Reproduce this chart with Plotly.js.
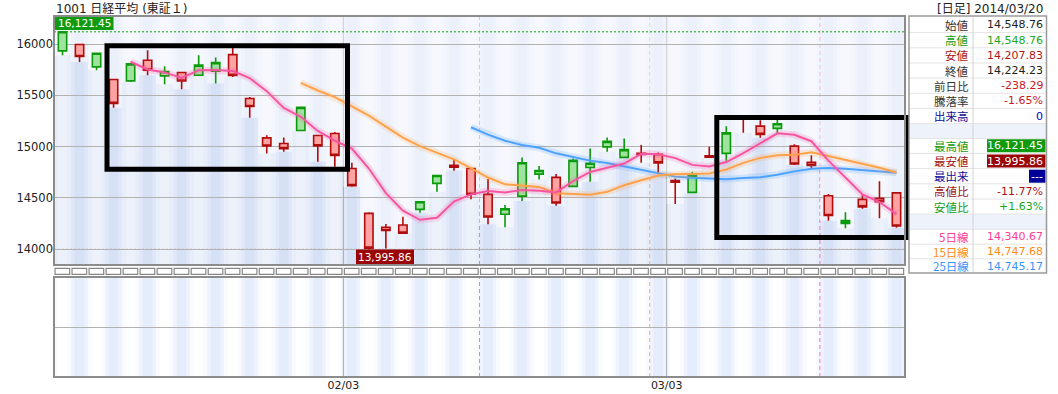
<!DOCTYPE html>
<html><head><meta charset="utf-8">
<script src="https://cdn.plot.ly/plotly-3.0.1.min.js"></script>
<style>html,body{margin:0;padding:0;background:#fff;}#chart{width:1058px;height:394px;}</style>
</head><body><div id="chart"></div>
<script>
// ---------------- DATA ----------------
const chartTitle = '1001 日経平均 (東証１)';
const chartHeader = '[日足] 2014/03/20';
const dates = ['01/08','01/09','01/10','01/14','01/15','01/16','01/17','01/20','01/21','01/22','01/23','01/24','01/27','01/28','01/29','01/30','01/31',
 '02/03','02/04','02/05','02/06','02/07','02/10','02/12','02/13','02/14','02/17','02/18','02/19','02/20','02/21','02/24','02/25','02/26','02/27','02/28',
 '03/03','03/04','03/05','03/06','03/07','03/10','03/11','03/12','03/13','03/14','03/17','03/18','03/19','03/20'];
const openV = [15935,15997,15779,15656,15642,15844,15691,15724,15697,15737,15899,15470,15086,15031,15158,15109,15129,
 14787,14348,14212,14234,14387,14641,14817,14787,14534,14339,14517,14732,14700,14612,14797,14998,14895,14935,14924,
 14668,14553,14910,14934,15282,15200,15178,15005,14846,14520,14251,14485,14495,14548.76];
const highV = [16121.45,15999,15920,15662,15812,15941,15785,15728,15893,15870,15964,15486,15112,15090,15390,15115,15144,
 14842,14358,14244,14315,14465,14722,14878,14792,14683,14429,14895,14810,14732,14885,14982,15090,15080,15015,14943,
 14690,14754,14998,15200,15295,15259,15260,15024,14917,14537,14358,14537,14663,14548.76];
const lowV = [15893,15827,15746,15379,15632,15697,15610,15561,15690,15617,15681,15281,14934,14950,15150,14852,14803,
 14608,13995.86,14005,14150,14354,14559,14764,14485,14241,14212,14468,14680,14422,14605,14657,14950,14890,14842,14732,
 14439,14545,14890,14861,15135,15086,15122,14820,14780,14276,14202,14393,14300,14207.83];
const closeV = [16121.45,15880.33,15912.06,15422.40,15808.73,15747.20,15734.46,15641.68,15795.96,15820.96,15695.89,15391.56,15005.73,14980.16,15383.89,15007.06,14914.53,
 14619.13,14008.47,14180.38,14155.12,14462.41,14718.34,14800.06,14534.71,14313.03,14393.11,14843.24,14766.53,14449.44,14865.67,14837.68,15051.60,14970.97,14923.11,14841.07,
 14652.23,14721.48,14897.63,15134.75,15274.07,15120.14,15224.06,14830.39,14815.98,14327.66,14277.67,14411.27,14462.52,14224.23];
const ma5 = [null,null,null,null,
 15828.99,15754.14,15724.97,15670.89,15745.61,15748.05,15737.79,15669.21,15542.02,15378.86,
 15291.45,15153.68,15058.27,14980.95,14786.62,14545.91,14375.53,14285.10,14304.94,14463.26,
 14534.13,14565.71,14551.85,14576.83,14570.12,14553.07,14663.60,14752.51,14794.18,14835.07,
 14929.81,14924.89,14887.80,14821.77,14807.10,14849.43,14936.03,15029.61,15130.13,15116.68,
 15052.93,14863.65,14695.15,14532.59,14459.02,14340.67];
const ma15 = [null,null,null,null,null,null,null,null,null,null,null,null,null,null,
 15622.83,15548.54,15484.15,15397.96,15303.69,15195.14,15089.00,15004.20,14942.64,14876.25,
 14790.50,14698.31,14631.74,14620.91,14606.67,14544.37,14534.94,14529.82,14558.65,14622.82,
 14672.33,14718.06,14730.72,14730.93,14737.43,14777.44,14841.51,14889.97,14915.36,14919.62,
 14944.06,14908.19,14870.85,14828.17,14794.27,14747.68];
const ma25 = [null,null,null,null,null,null,null,null,null,null,null,null,null,null,null,null,null,null,null,null,null,null,null,null,
 15189.71,15117.37,15057.88,15015.13,14988.89,14934.52,14899.26,14863.39,14839.79,14806.79,
 14770.87,14736.68,14707.11,14695.74,14692.44,14682.47,14693.15,14701.37,14725.57,14758.45,
 14783.87,14790.77,14783.38,14771.10,14757.60,14745.17];
const maPeriods = [5, 15, 25];
const yTickVals = [14000, 14500, 15000, 15500, 16000];
const yTickLabels = ['14000','14500','15000','15500','16000'];
const xTickDates = ['02/03','03/03'];
const infoLabels = ['始値','高値','安値','終値','前日比','騰落率','出来高','','最高値','最安値','最出来','高値比','安値比','','5日線','15日線','25日線'];
const infoValues = ['14,548.76','14,548.76','14,207.83','14,224.23','-238.29','-1.65%','0','','16,121.45','13,995.86','---','-11.77%','+1.63%','','14,340.67','14,747.68','14,745.17'];

// ---------------- STYLE / GEOMETRY ----------------
const n = dates.length;
const xs = dates.map((d, i) => i);
const L = 54, R = 905, T = 16, B = 377;
const px = x => (x - L) / (R - L);
const py = y => (B - y) / (B - T);
const yMin = 13844, yMax = 16276;
const NUM = 'DejaVu Sans, Verdana, sans-serif';
const CJK = 'DejaVu Sans, Noto Sans CJK JP, sans-serif';
const cPink = '#f7559f', cOrange = '#ffa24a', cBlue = '#4ea2ff';

const shapes = [];
for (let i = 0; i < n; i++) {
  const odd = i % 2 === 1;
  shapes.push({type:'rect', layer:'below', xref:'x', yref:'y domain', x0:i-0.5, x1:i+0.5, y0:0, y1:1,
    fillcolor: odd ? '#dfe7f8' : '#e7edf9', line:{width:0}});
  shapes.push({type:'rect', layer:'below', xref:'x', yref:'y domain', x0:i-0.28, x1:i+0.28, y0:0, y1:1,
    fillcolor: odd ? '#d7e1f6' : '#edf1fa', line:{width:0}});
  shapes.push({type:'rect', layer:'below', xref:'x', yref:'y2 domain', x0:i-0.5, x1:i+0.5, y0:0, y1:1,
    fillcolor: odd ? '#eef3fd' : '#f9fbfe', line:{width:0}});
  shapes.push({type:'rect', layer:'below', xref:'x', yref:'y2 domain', x0:i-0.28, x1:i+0.28, y0:0, y1:1,
    fillcolor: odd ? '#e5edfc' : '#ffffff', line:{width:0}});
}
for (let i = 0; i < n; i++) {
  shapes.push({type:'rect', layer:'below', xref:'x', yref:'y', x0:i-0.5, x1:i+0.5, y0:lowV[i], y1:yMax,
    fillcolor:'rgba(255,255,255,0.5)', line:{width:0}});
}
// month separators
xTickDates.forEach(d => {
  const k = dates.indexOf(d) - 0.5;
  ['y domain','y2 domain'].forEach(yr => shapes.push({type:'line', layer:'below', xref:'x', yref:yr,
    x0:k, x1:k, y0:0, y1:1, line:{color:'#a6a6a6', width:1}}));
});
// MA window start markers
const maDashColors = ['#ff6fb2', '#ffad6a', '#6fb0ff'];
maPeriods.forEach((p, j) => {
  const k = n - p - 0.5;
  ['y domain','y2 domain'].forEach(yr => shapes.push({type:'line', layer:'below', xref:'x', yref:yr,
    x0:k, x1:k, y0:0, y1:1, line:{color:maDashColors[j], width:1, dash:'4px,3px'}}));
});
// max / min lines
const hiVal = Math.max(...highV), loVal = Math.min(...lowV);
shapes.push({type:'line', layer:'above', xref:'x', yref:'y', x0:-0.5, x1:n-0.5, y0:hiVal, y1:hiVal,
  line:{color:'#10a010', width:1, dash:'2px,2px'}});
shapes.push({type:'line', layer:'below', xref:'x', yref:'y', x0:-0.5, x1:n-0.5, y0:loVal, y1:loVal,
  line:{color:'#9a0a0a', width:1, dash:'2px,2px'}});
// value tags
shapes.push({type:'rect', layer:'above', xref:'paper', yref:'paper', x0:px(55), x1:px(113.5), y0:py(30), y1:py(16.5),
  fillcolor:'#0f9a0f', line:{width:0}});
shapes.push({type:'rect', layer:'above', xref:'paper', yref:'paper', x0:px(356), x1:px(414), y0:py(264), y1:py(249.5),
  fillcolor:'#9a0606', line:{width:0}});
// user boxes
shapes.push({type:'rect', layer:'above', xref:'paper', yref:'paper', x0:px(107), x1:px(347.5), y0:py(169.2), y1:py(45.8),
  line:{color:'#000', width:5}, fillcolor:'rgba(0,0,0,0)'});
shapes.push({type:'rect', layer:'above', xref:'paper', yref:'paper', x0:px(716.8), x1:px(906.5), y0:py(237.5), y1:py(117.5),
  line:{color:'#000', width:5}, fillcolor:'rgba(0,0,0,0)'});
// day boxes row
for (let i = 0; i < n; i++) {
  shapes.push({type:'rect', layer:'above', xref:'x', yref:'paper', x0:i-0.44, x1:i+0.42, y0:py(274.3), y1:py(268.3),
    fillcolor:'#fff', line:{color:'#888', width:1.2}});
}
// panel borders
shapes.push({type:'rect', layer:'above', xref:'paper', yref:'paper', x0:0, x1:1, y0:py(265), y1:py(16),
  line:{color:'#8c8c8c', width:2}, fillcolor:'rgba(0,0,0,0)'});
shapes.push({type:'rect', layer:'above', xref:'paper', yref:'paper', x0:0, x1:1, y0:py(377), y1:py(277),
  line:{color:'#8c8c8c', width:2}, fillcolor:'rgba(0,0,0,0)'});

// ---------- info table ----------
const tL = 909, tD = 973, tR = 1046.5, tT = 16, tB = 273;
const rowY = [25,40.2,55.4,70.5,85.7,100.9,116,131.2,145.8,161,176.2,191.4,206.6,221.7,236.9,251.5,266];
const labelColors = ['#333','#129a12','#a81010','#333','#333','#333','#10109a','', '#129a12','#a01010','#10109a','#a01010','#129a12','', '#ff3d96','#ff8a14','#3a92ff'];
const valueColors = ['#222','#20a820','#b01818','#222','#cc1a1a','#cc1a1a','#0000cc','', '#fff','#fff','#fff','#b01010','#18a818','', '#ff3d96','#ff8a14','#3a92ff'];
const valueBg = {8:['#109a10',987], 9:['#990505',987], 10:['#000099',1029]};
[7, 13].forEach(k => shapes.push({type:'rect', layer:'above', xref:'paper', yref:'paper',
  x0:px(tL), x1:px(tR), y0:py(rowY[k]+7.5), y1:py(rowY[k]-7.5), fillcolor:'#eef2fb', line:{width:0}}));
for (let k = 0; k < rowY.length - 1; k++) {
  const yy = (rowY[k] + rowY[k+1]) / 2;
  shapes.push({type:'line', layer:'above', xref:'paper', yref:'paper', x0:px(tL), x1:px(tR), y0:py(yy), y1:py(yy),
    line:{color:'#e4e4e4', width:1}});
}
Object.keys(valueBg).forEach(k => {
  const [c, x0] = valueBg[k];
  shapes.push({type:'rect', layer:'above', xref:'paper', yref:'paper', x0:px(x0), x1:px(1045.5),
    y0:py(rowY[k]+6.5), y1:py(rowY[k]-6.5), fillcolor:c, line:{width:0}});
});
shapes.push({type:'line', layer:'above', xref:'paper', yref:'paper', x0:px(tD), x1:px(tD), y0:py(tB), y1:py(tT),
  line:{color:'#d2d2d2', width:1}});
shapes.push({type:'rect', layer:'above', xref:'paper', yref:'paper', x0:px(tL), x1:px(tR), y0:py(tB), y1:py(tT),
  line:{color:'#9a9a9a', width:1.5}, fillcolor:'rgba(0,0,0,0)'});

const fmt = v => v.toLocaleString('en-US', {minimumFractionDigits:2, maximumFractionDigits:2});
const annotations = [
  {xref:'paper', yref:'paper', x:px(54), y:py(8.5), xanchor:'left', yanchor:'middle', showarrow:false,
   text:chartTitle, font:{family:CJK, size:12, color:'#222'}},
  {xref:'paper', yref:'paper', x:px(1045), y:py(8.5), xanchor:'right', yanchor:'middle', showarrow:false,
   text:chartHeader, font:{family:CJK, size:12, color:'#222'}},
  {xref:'paper', yref:'paper', x:px(84.3), y:py(23.3), xanchor:'center', yanchor:'middle', showarrow:false,
   text:fmt(hiVal), font:{family:NUM, size:10.5, color:'#fff'}},
  {xref:'paper', yref:'paper', x:px(385), y:py(256.8), xanchor:'center', yanchor:'middle', showarrow:false,
   text:fmt(loVal), font:{family:NUM, size:10.5, color:'#fff'}}
];
infoLabels.forEach((lab, k) => {
  if (!lab) return;
  annotations.push({xref:'paper', yref:'paper', x:px(971), y:py(rowY[k]), xanchor:'right', yanchor:'middle', showarrow:false,
    text:lab, font:{family:'Noto Sans CJK JP, sans-serif', size:11.5, color:labelColors[k]}});
  annotations.push({xref:'paper', yref:'paper', x:px(1045), y:py(rowY[k]), xanchor:'right', yanchor:'middle', showarrow:false,
    text:infoValues[k], font:{family:NUM, size:11, color:valueColors[k]}});
});

// ---------------- TRACES ----------------
const traces = [
  {type:'candlestick', x:xs, open:openV, high:highV, low:lowV, close:closeV, xaxis:'x', yaxis:'y',
   increasing:{line:{color:'#0a9a0a', width:1.6}, fillcolor:'#9fe39f'},
   decreasing:{line:{color:'#b00c0c', width:1.6}, fillcolor:'#ffa3a3'},
   whiskerwidth:0, hoverinfo:'none', showlegend:false}
];
[[ma25, cBlue], [ma15, cOrange], [ma5, cPink]].forEach(([arr, col]) => {
  traces.push({type:'scatter', mode:'lines', x:xs, y:arr, xaxis:'x', yaxis:'y', hoverinfo:'skip',
    line:{color:col, width:7}, opacity:0.18, showlegend:false});
  traces.push({type:'scatter', mode:'lines', x:xs, y:arr, xaxis:'x', yaxis:'y', hoverinfo:'skip',
    line:{color:col, width:2}, showlegend:false});
});
traces.push({type:'scatter', mode:'lines', x:[0], y:[null], xaxis:'x', yaxis:'y2', hoverinfo:'skip', showlegend:false});

const layout = {
  width:1058, height:394, margin:{l:L, r:1058-R, t:T, b:394-B},
  paper_bgcolor:'#fff', plot_bgcolor:'#fff', showlegend:false, dragmode:false,
  xaxis:{range:[-0.5, n-0.5], anchor:'y2', showgrid:false, zeroline:false, showline:false, ticks:'',
    tickvals:xTickDates.map(d => dates.indexOf(d) - 0.5), ticktext:xTickDates,
    tickfont:{family:NUM, size:11, color:'#222'}, rangeslider:{visible:false}, fixedrange:true},
  yaxis:{domain:[py(265), 1], range:[yMin, yMax], tickvals:yTickVals, ticktext:yTickLabels,
    showgrid:true, gridcolor:'#b2b2b2', gridwidth:1, zeroline:false, showline:false, ticks:'',
    tickfont:{family:NUM, size:11.5, color:'#222'}, fixedrange:true},
  yaxis2:{domain:[0, py(277)], range:[0, 1], tickvals:[0.5], showticklabels:false, showgrid:true,
    gridcolor:'#b2b2b2', zeroline:false, showline:false, ticks:'', fixedrange:true},
  shapes:shapes, annotations:annotations
};
Plotly.newPlot('chart', traces, layout, {displayModeBar:false, staticPlot:true});
</script></body></html>
